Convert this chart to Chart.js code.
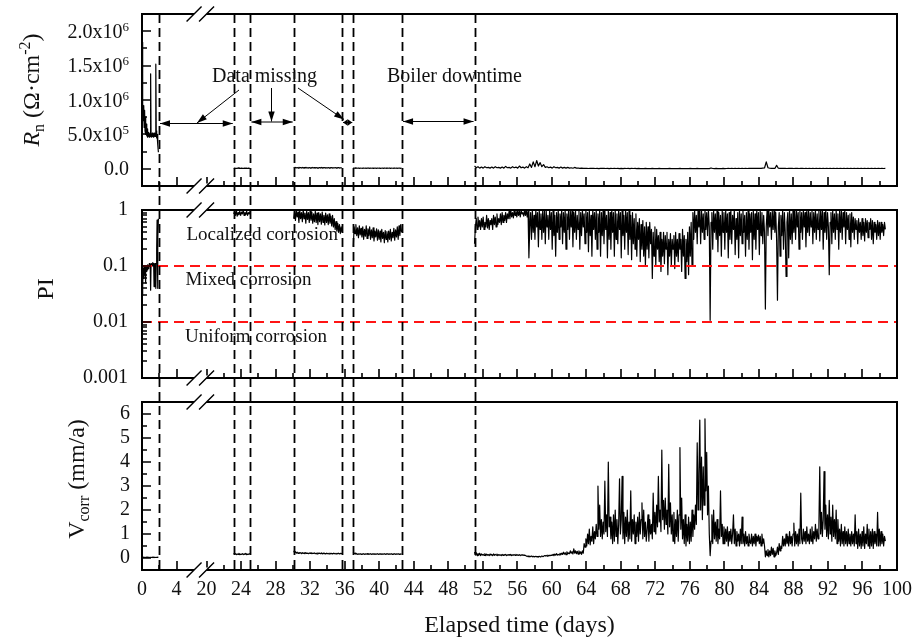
<!DOCTYPE html>
<html>
<head>
<meta charset="utf-8">
<script src="https://cdn.jsdelivr.net/npm/chart.js@4"></script>
<style>
  html, body { margin: 0; padding: 0; background: #fff; }
  #wrap { position: relative; width: 922px; height: 640px; }
  #wrap canvas { position: absolute; left: 0; }
</style>
</head>
<body>
<div id="wrap">
  <canvas id="rn_plot" width="922" height="196" style="top:0px"></canvas>
  <canvas id="pi_plot" width="922" height="196" style="top:196px"></canvas>
  <canvas id="vcorr_plot" width="922" height="248" style="top:392px"></canvas>
</div>
<script>
'use strict';

// ---- data (time in days) ----
const gapEdges = [1.97, 23.15, 25.08, 30.1, 35.7, 37.0, 42.65, 51.05];
const xMajorTicks = [0, 4, 20, 24, 28, 32, 36, 40, 44, 48, 52, 56, 60, 64, 68, 72, 76, 80, 84, 88, 92, 96, 100];
const xMinorTicks = [2, 22, 26, 30, 34, 38, 42, 46, 50, 54, 58, 62, 66, 70, 74, 78, 82, 86, 90, 94, 98];

const rnTicks = [0, 5e5, 1e6, 1.5e6, 2e6];
const rnTickBase = ['0.0', '5.0x10', '1.0x10', '1.5x10', '2.0x10'];
const rnTickExp = ['', '5', '6', '6', '6'];
const rnMinorTicks = [2.5e5, 7.5e5, 1.25e6, 1.75e6];
const piTicks = [0.001, 0.01, 0.1, 1];
const piMinorTicks = [0.002, 0.003, 0.004, 0.005, 0.006, 0.007, 0.008, 0.009,
  0.02, 0.03, 0.04, 0.05, 0.06, 0.07, 0.08, 0.09, 0.2, 0.3, 0.4, 0.5, 0.6, 0.7, 0.8, 0.9];
const piThresholds = [0.1, 0.01];
const vcorrTicks = [0, 1, 2, 3, 4, 5, 6];
const vcorrMinorTicks = [0.5, 1.5, 2.5, 3.5, 4.5, 5.5];

// first run, 0 - 1.9 d, sampled every 0.05 d
const earlyStart = 0, earlyStep = 0.05;
const rnEarly = [1.84e6, 1.2e6, 0.95e6, 0.7e6, 0.92e6, 0.6e6, 0.85e6, 0.55e6, 0.75e6, 0.5e6,
  0.65e6, 0.48e6, 0.58e6, 0.46e6, 0.52e6, 0.47e6, 0.53e6, 0.46e6, 0.5e6, 0.47e6,
  1.38e6, 0.48e6, 0.5e6, 0.46e6, 0.52e6, 0.47e6, 0.5e6, 0.46e6, 0.52e6, 0.47e6,
  0.5e6, 0.47e6, 1.52e6, 0.55e6, 0.45e6, 0.5e6, 0.45e6, 0.35e6, 0.24e6];
const piEarly = [0.03, 0.1, 0.045, 0.09, 0.06, 0.1, 0.07, 0.095, 0.05, 0.1,
  0.08, 0.1, 0.085, 0.105, 0.09, 0.1, 0.095, 0.11, 0.1, 0.105,
  0.037, 0.11, 0.1, 0.11, 0.1, 0.115, 0.1, 0.11, 0.043, 0.11,
  0.1, 0.11, 0.04, 0.11, 0.2, 0.66, 0.04, 0.3, 0.7];
const vcorrEarly = [0.06, 0.03, 0.04, 0.02, 0.03, 0.02, 0.03, 0.02, 0.03, 0.02,
  0.03, 0.02, 0.03, 0.02, 0.03, 0.02, 0.03, 0.02, 0.03, 0.02,
  0.03, 0.02, 0.03, 0.02, 0.03, 0.02, 0.03, 0.02, 0.03, 0.02,
  0.03, 0.02, 0.03, 0.02, 0.03, 0.02, 0.04, 0.03, 0.04];

// short runs between the gaps, sampled every 0.1 d
const midStep = 0.1;
const mid1Start = 23.15, mid2Start = 30.1, mid3Start = 37.0;
const rnMid1 = [5e3, 1e4, 6e3, 8e3, 5e3, 1.2e4, 6e3, 9e3, 5e3, 1e4, 6e3, 8e3, 5e3, 1.2e4, 7e3, 9e3, 5e3, 1e4, 6e3, 8e3];
const piMid1 = [0.85, 0.95, 0.8, 1.0, 0.78, 0.9, 0.82, 0.95, 0.8, 0.92, 0.85, 1.0, 0.8, 0.9, 0.83, 0.95, 0.8, 0.9, 0.85, 0.95];
const vcorrMid1 = [0.2, 0.15, 0.18, 0.14, 0.17, 0.15, 0.19, 0.14, 0.16, 0.15, 0.18, 0.14, 0.17, 0.15, 0.19, 0.14, 0.16, 0.15, 0.18, 0.16];

const rnMid2 = [2.5e4, 1e4, 2e4, 1.2e4, 1.8e4, 1e4, 2.2e4, 1.3e4, 1.8e4, 1e4,
  2e4, 1.1e4, 1.7e4, 1e4, 2.1e4, 1.2e4, 1.6e4, 1e4, 1.9e4, 1.1e4,
  1.8e4, 1e4, 2e4, 1.2e4, 1.7e4, 1e4, 1.9e4, 1.1e4, 1.6e4, 1e4,
  1.8e4, 1.1e4, 2e4, 1e4, 1.7e4, 1.2e4, 1.9e4, 1e4, 1.6e4, 1.1e4,
  1.8e4, 1e4, 1.7e4, 1.1e4, 1.9e4, 1e4, 1.6e4, 1.2e4, 1.8e4, 1e4,
  1.7e4, 1.1e4, 1.9e4, 1e4, 1.6e4, 1.2e4, 1.5e4];
const piMid2 = [0.7, 0.95, 0.65, 1.0, 0.75, 0.92, 0.6, 0.98, 0.7, 0.9,
  0.62, 1.0, 0.7, 0.88, 0.58, 0.95, 0.68, 0.9, 0.6, 0.97,
  0.66, 0.92, 0.58, 0.85, 0.62, 0.95, 0.6, 0.88, 0.55, 0.9,
  0.62, 0.85, 0.56, 0.92, 0.6, 0.8, 0.54, 0.88, 0.6, 0.82,
  0.55, 0.85, 0.58, 0.78, 0.52, 0.8, 0.5, 0.7, 0.45, 0.62,
  0.42, 0.58, 0.4, 0.55, 0.38, 0.5, 0.4];
const vcorrMid2 = [0.3, 0.22, 0.26, 0.2, 0.24, 0.19, 0.23, 0.2, 0.22, 0.18,
  0.22, 0.19, 0.21, 0.18, 0.22, 0.19, 0.2, 0.18, 0.21, 0.19,
  0.22, 0.18, 0.2, 0.19, 0.21, 0.18, 0.2, 0.17, 0.21, 0.19,
  0.2, 0.18, 0.21, 0.17, 0.2, 0.18, 0.19, 0.17, 0.2, 0.18,
  0.19, 0.17, 0.2, 0.18, 0.19, 0.17, 0.2, 0.18, 0.19, 0.17,
  0.19, 0.18, 0.2, 0.17, 0.19, 0.18, 0.19];

const rnMid3 = [1.5e4, 0.8e4, 1.2e4, 0.7e4, 1.1e4, 0.8e4, 1.2e4, 0.7e4, 1e4, 0.8e4,
  1.1e4, 0.7e4, 1.2e4, 0.8e4, 1e4, 0.7e4, 1.1e4, 0.8e4, 1.2e4, 0.7e4,
  1e4, 0.8e4, 1.1e4, 0.7e4, 1.2e4, 0.8e4, 1e4, 0.7e4, 1.1e4, 0.8e4,
  1.2e4, 0.7e4, 1e4, 0.8e4, 1.1e4, 0.7e4, 1.2e4, 0.8e4, 1e4, 0.7e4,
  1.1e4, 0.8e4, 1.2e4, 0.7e4, 1e4, 0.8e4, 1.1e4, 0.7e4, 1.2e4, 0.8e4,
  1e4, 0.7e4, 1.1e4, 0.8e4, 1.2e4, 0.7e4, 1e4];
const piMid3 = [0.22, 0.5, 0.38, 0.55, 0.35, 0.48, 0.32, 0.52, 0.36, 0.47,
  0.33, 0.5, 0.3, 0.45, 0.34, 0.52, 0.31, 0.46, 0.35, 0.5,
  0.3, 0.44, 0.32, 0.48, 0.28, 0.42, 0.33, 0.46, 0.29, 0.44,
  0.3, 0.42, 0.27, 0.45, 0.31, 0.4, 0.26, 0.43, 0.3, 0.41,
  0.27, 0.42, 0.3, 0.45, 0.28, 0.4, 0.32, 0.47, 0.29, 0.44,
  0.33, 0.5, 0.3, 0.52, 0.35, 0.55, 0.4];
const vcorrMid3 = [0.25, 0.18, 0.2, 0.16, 0.18, 0.15, 0.17, 0.16, 0.18, 0.15,
  0.17, 0.16, 0.18, 0.15, 0.17, 0.16, 0.18, 0.15, 0.17, 0.16,
  0.18, 0.15, 0.17, 0.16, 0.18, 0.15, 0.17, 0.16, 0.18, 0.15,
  0.17, 0.16, 0.18, 0.15, 0.17, 0.16, 0.18, 0.15, 0.17, 0.16,
  0.18, 0.15, 0.17, 0.16, 0.18, 0.15, 0.17, 0.16, 0.18, 0.15,
  0.17, 0.16, 0.18, 0.15, 0.17, 0.16, 0.18];

// long run after the boiler downtime, from 51.05 d
const lateStart = 51.05;
// Rn every 0.2 d (one row = one day)
const rnLateStep = 0.2;
const rnLate = [
  4e4, 1.5e4, 3e4, 1e4, 2.5e4,   1e4, 3e4, 1.5e4, 2e4, 1e4,
  2.5e4, 1e4, 3e4, 1.5e4, 2e4,   1e4, 2.5e4, 1e4, 3.5e4, 1.5e4,
  2e4, 1e4, 3e4, 1.5e4, 2.5e4,   1e4, 4e4, 1.5e4, 2.5e4, 1e4,
  3e4, 1.5e4, 7e4, 2e4, 10e4,    3e4, 12e4, 4e4, 9e4, 3e4,
  6e4, 2e4, 3e4, 1.5e4, 2.5e4,   1e4, 3e4, 1.5e4, 2e4, 1e4,
  2.5e4, 1e4, 2e4, 1e4, 2e4,     1e4, 1.5e4, 0.8e4, 2e4, 1e4,
  1.2e4, 0.6e4, 1e4, 0.5e4, 0.8e4, 0.6e4, 0.4e4, 0.8e4, 0.5e4, 0.7e4,
  0.4e4, 0.6e4, 0.3e4, 0.7e4, 0.5e4, 0.6e4, 0.4e4, 0.5e4, 0.3e4, 0.6e4,
  0.4e4, 0.7e4, 0.4e4, 0.5e4, 0.3e4, 0.5e4, 0.3e4, 0.6e4, 0.4e4, 0.5e4,
  0.3e4, 0.5e4, 0.4e4, 0.6e4, 0.3e4, 0.5e4, 0.3e4, 0.4e4, 0.3e4, 0.5e4,
  0.3e4, 0.4e4, 0.3e4, 0.5e4, 0.3e4, 0.4e4, 0.3e4, 0.5e4, 0.3e4, 0.4e4,
  0.3e4, 0.4e4, 0.3e4, 0.5e4, 0.3e4, 0.4e4, 0.3e4, 0.4e4, 0.3e4, 0.5e4,
  0.3e4, 0.4e4, 0.3e4, 0.4e4, 0.3e4, 0.5e4, 0.3e4, 0.4e4, 0.3e4, 0.5e4,
  0.3e4, 0.4e4, 0.3e4, 0.4e4, 0.3e4, 0.4e4, 0.3e4, 1.2e4, 0.4e4, 0.3e4,
  0.5e4, 0.3e4, 0.4e4, 0.3e4, 0.5e4, 0.3e4, 0.4e4, 0.6e4, 0.4e4, 0.5e4,
  0.4e4, 0.6e4, 0.4e4, 0.5e4, 0.4e4, 0.6e4, 0.4e4, 0.5e4, 0.4e4, 0.6e4,
  0.5e4, 0.7e4, 0.5e4, 0.8e4, 0.6e4, 0.8e4, 0.6e4, 0.9e4, 1.2e4, 10e4,
  1.5e4, 0.8e4, 0.6e4, 0.7e4, 0.5e4, 5e4, 0.8e4, 0.6e4, 0.7e4, 0.5e4,
  0.6e4, 0.4e4, 0.6e4, 0.5e4, 0.6e4, 0.4e4, 0.6e4, 0.5e4, 0.4e4, 0.6e4,
  0.5e4, 0.4e4, 0.6e4, 0.4e4, 0.5e4, 0.4e4, 0.6e4, 0.4e4, 0.5e4, 0.4e4,
  0.6e4, 0.4e4, 0.5e4, 0.4e4, 0.6e4, 0.4e4, 0.5e4, 0.4e4, 0.6e4, 0.4e4,
  0.5e4, 0.4e4, 0.6e4, 0.4e4, 0.5e4, 0.4e4, 0.6e4, 0.4e4, 0.5e4, 0.4e4,
  0.5e4, 0.4e4, 0.6e4, 0.4e4, 0.5e4, 0.4e4, 0.5e4, 0.4e4, 0.6e4, 0.4e4,
  0.5e4, 0.4e4, 0.5e4, 0.4e4, 0.6e4, 0.4e4, 0.5e4, 0.4e4, 0.5e4];

// PI and Vcorr every 0.1 d (one row = one day, 51 .. 98)
const fineStep = 0.1;
const piLate = [
  0.25, 0.5, 0.7, 0.45, 0.75, 0.5, 0.65, 0.45, 0.7, 0.5,
  0.75, 0.45, 0.6, 0.5, 0.8, 0.48, 0.7, 0.45, 0.65, 0.55,
  0.7, 0.45, 0.8, 0.55, 0.75, 0.5, 0.85, 0.55, 0.7, 0.6,
  0.85, 0.55, 0.9, 0.6, 0.8, 0.65, 0.9, 0.6, 0.85, 0.7,
  0.95, 0.7, 1.0, 0.75, 0.9, 0.72, 1.0, 0.8, 0.95, 0.75,
  1.0, 0.8, 0.95, 0.75, 1.0, 0.85, 0.9, 0.78, 1.0, 0.8,
  1.0, 0.75, 0.95, 0.14, 0.5, 0.9, 0.3, 1.0, 0.4, 0.8,
  0.3, 1.0, 0.5, 0.9, 0.22, 1.0, 0.45, 0.85, 0.3, 1.0,
  0.4, 0.95, 0.25, 1.0, 0.5, 0.8, 0.3, 1.0, 0.45, 0.9,
  0.2, 1.0, 0.35, 0.8, 0.15, 0.9, 0.4, 1.0, 0.3, 0.85,
  0.5, 1.0, 0.25, 0.9, 0.4, 1.0, 0.2, 0.85, 0.45, 1.0,
  0.3, 0.95, 0.5, 1.0, 0.22, 0.9, 0.4, 1.0, 0.3, 0.8,
  0.45, 1.0, 0.2, 0.9, 0.35, 1.0, 0.5, 0.85, 0.25, 1.0,
  0.4, 0.9, 0.18, 1.0, 0.35, 0.8, 0.15, 1.0, 0.45, 0.9,
  0.3, 1.0, 0.2, 0.85, 0.4, 1.0, 0.15, 0.9, 0.35, 1.0,
  0.25, 1.0, 0.45, 0.8, 0.14, 1.0, 0.3, 0.9, 0.2, 1.0,
  0.4, 0.9, 0.15, 1.0, 0.3, 0.85, 0.25, 1.0, 0.45, 0.9,
  0.14, 1.0, 0.35, 0.8, 0.2, 1.0, 0.4, 0.9, 0.16, 1.0,
  0.3, 0.8, 0.13, 0.9, 0.25, 0.7, 0.2, 0.85, 0.15, 0.6,
  0.3, 0.7, 0.12, 0.55, 0.2, 0.65, 0.15, 0.5, 0.1, 0.6,
  0.2, 0.5, 0.14, 0.6, 0.25, 0.45, 0.06, 0.4, 0.15, 0.5,
  0.1, 0.45, 0.2, 0.35, 0.12, 0.4, 0.08, 0.3, 0.15, 0.4,
  0.11, 0.35, 0.2, 0.4, 0.07, 0.3, 0.15, 0.38, 0.1, 0.3,
  0.2, 0.35, 0.09, 0.4, 0.15, 0.3, 0.12, 0.38, 0.2, 0.3,
  0.08, 0.45, 0.15, 0.35, 0.06, 0.3, 0.12, 0.4, 0.07, 0.5,
  0.15, 0.6, 0.1, 0.9, 0.3, 1.0, 0.4, 0.8, 0.25, 1.0,
  0.5, 0.95, 0.25, 1.0, 0.4, 0.85, 0.3, 1.0, 0.45, 0.9,
  0.35, 1.0, 0.5, 0.0107, 0.6, 0.9, 0.2, 1.0, 0.4, 0.85,
  0.3, 1.0, 0.18, 0.9, 0.35, 0.8, 0.15, 1.0, 0.4, 0.9,
  0.2, 1.0, 0.4, 0.85, 0.14, 0.9, 0.3, 1.0, 0.25, 0.8,
  0.45, 1.0, 0.16, 0.7, 0.3, 0.9, 0.14, 1.0, 0.35, 0.85,
  0.25, 1.0, 0.4, 0.8, 0.15, 0.9, 0.3, 1.0, 0.2, 0.85,
  0.4, 0.9, 0.13, 1.0, 0.3, 0.85, 0.2, 1.0, 0.45, 0.9,
  0.16, 1.0, 0.35, 0.9, 0.25, 0.8, 0.4, 0.017, 0.5, 1.0,
  0.35, 1.0, 0.5, 0.9, 0.3, 0.95, 0.45, 1.0, 0.4, 0.9,
  0.3, 0.0245, 0.5, 0.9, 0.15, 0.8, 0.35, 1.0, 0.2, 0.9,
  0.4, 0.065, 0.6, 0.9, 0.14, 1.0, 0.3, 0.85, 0.25, 1.0,
  0.4, 0.95, 0.3, 1.0, 0.5, 0.9, 0.2, 1.0, 0.4, 0.9,
  0.3, 1.0, 0.5, 0.9, 0.22, 0.95, 0.4, 1.0, 0.35, 0.9,
  0.5, 1.0, 0.25, 0.9, 0.4, 1.0, 0.3, 0.85, 0.45, 1.0,
  0.28, 0.95, 0.45, 1.0, 0.2, 0.9, 0.4, 1.0, 0.3, 0.9,
  0.5, 0.07, 0.6, 0.9, 0.25, 1.0, 0.4, 0.85, 0.3, 1.0,
  0.45, 0.85, 0.2, 0.95, 0.4, 1.0, 0.3, 0.9, 0.5, 1.0,
  0.25, 0.9, 0.45, 0.8, 0.3, 0.85, 0.22, 0.9, 0.4, 0.75,
  0.3, 0.7, 0.45, 0.65, 0.25, 0.7, 0.4, 0.6, 0.3, 0.7,
  0.35, 0.6, 0.28, 0.7, 0.4, 0.65, 0.32, 0.6, 0.45, 0.7,
  0.3, 0.65, 0.25, 0.6, 0.4, 0.55, 0.3, 0.65, 0.35, 0.6,
  0.3, 0.6, 0.4, 0.55, 0.35, 0.6, 0.45];
const vcorrLate = [
  0.25, 0.12, 0.22, 0.1, 0.18, 0.12, 0.2, 0.1, 0.17, 0.12,
  0.15, 0.11, 0.18, 0.1, 0.16, 0.12, 0.14, 0.1, 0.16, 0.12,
  0.14, 0.1, 0.17, 0.11, 0.15, 0.12, 0.16, 0.1, 0.14, 0.12,
  0.13, 0.1, 0.15, 0.11, 0.14, 0.12, 0.15, 0.1, 0.13, 0.12,
  0.14, 0.11, 0.15, 0.1, 0.13, 0.12, 0.14, 0.11, 0.15, 0.12,
  0.13, 0.11, 0.14, 0.1, 0.13, 0.12, 0.14, 0.11, 0.12, 0.1,
  0.08, 0.06, 0.08, 0.05, 0.07, 0.06, 0.08, 0.05, 0.07, 0.06,
  0.05, 0.07, 0.05, 0.06, 0.04, 0.07, 0.05, 0.06, 0.08, 0.06,
  0.07, 0.1, 0.08, 0.11, 0.08, 0.12, 0.09, 0.11, 0.1, 0.12,
  0.11, 0.15, 0.1, 0.16, 0.12, 0.18, 0.12, 0.15, 0.13, 0.19,
  0.14, 0.2, 0.15, 0.24, 0.16, 0.22, 0.14, 0.26, 0.17, 0.21,
  0.18, 0.3, 0.2, 0.26, 0.17, 0.38, 0.2, 0.3, 0.18, 0.28,
  0.16, 0.3, 0.18, 0.26, 0.15, 0.3, 0.2, 0.6, 0.45, 0.8,
  0.5, 1.0, 0.6, 1.2, 0.55, 0.9, 0.7, 1.3, 0.6, 1.1,
  0.8, 1.4, 0.9, 3.0, 1.2, 2.2, 0.9, 1.6, 0.8, 1.5,
  1.0, 3.2, 1.1, 1.8, 0.9, 4.0, 1.3, 1.7, 0.8, 1.5,
  0.6, 1.8, 0.7, 2.0, 0.9, 1.6, 0.6, 1.4, 3.3, 1.0,
  1.6, 3.4, 0.8, 1.9, 0.6, 1.7, 0.9, 2.0, 0.7, 1.5,
  0.8, 2.8, 0.7, 1.6, 1.0, 1.8, 0.6, 1.5, 0.9, 1.7,
  0.7, 1.9, 1.0, 1.6, 2.3, 0.8, 2.0, 0.9, 1.5, 0.7,
  1.2, 1.8, 0.7, 1.6, 1.0, 1.4, 0.8, 2.7, 1.1, 1.9,
  1.0, 2.2, 1.3, 3.4, 1.5, 2.0, 1.1, 4.5, 1.6, 2.4,
  1.2, 2.5, 1.4, 2.0, 1.0, 3.9, 1.3, 2.3, 1.0, 1.8,
  0.7, 1.9, 0.6, 1.6, 0.9, 2.0, 0.7, 1.8, 4.6, 1.2,
  2.5, 0.8, 1.6, 0.6, 1.8, 0.5, 1.4, 0.7, 1.7, 0.6,
  1.5, 0.7, 2.0, 0.9, 1.8, 1.2, 2.2, 1.4, 4.8, 2.0,
  3.5, 5.75, 2.0, 4.2, 1.6, 3.8, 2.2, 5.8, 2.8, 4.4,
  1.8, 3.0, 1.0, 0.1, 0.7, 1.8, 0.6, 2.0, 0.8, 1.5,
  0.7, 1.6, 0.6, 1.2, 0.8, 2.8, 0.9, 1.4, 0.6, 1.3,
  0.6, 1.2, 0.7, 1.3, 0.5, 1.1, 0.7, 1.2, 0.6, 1.0,
  1.8, 0.6, 1.2, 0.5, 1.1, 0.7, 1.0, 0.5, 1.2, 0.6,
  1.7, 0.6, 1.0, 0.5, 1.1, 0.6, 0.9, 0.5, 1.0, 0.7,
  0.6, 1.0, 0.5, 0.9, 0.6, 1.0, 0.5, 0.9, 0.7, 0.95,
  0.6, 0.9, 0.5, 1.0, 0.6, 0.8, 0.5, 0.05, 0.3, 0.1,
  0.35, 0.05, 0.3, 0.1, 0.45, 0.15, 0.4, 0.05, 0.3, 0.1,
  0.2, 0.45, 0.15, 0.6, 0.3, 0.5, 0.4, 0.9, 0.5, 0.8,
  0.5, 1.0, 0.6, 0.9, 0.5, 1.1, 0.6, 0.9, 0.5, 1.0,
  1.45, 0.5, 1.1, 0.6, 1.0, 0.5, 1.2, 0.6, 2.7, 0.8,
  0.6, 1.2, 0.7, 1.1, 0.6, 1.3, 0.7, 1.0, 0.6, 1.2,
  0.7, 1.3, 0.6, 1.1, 0.8, 1.4, 0.7, 1.2, 0.8, 1.3,
  3.8, 1.0, 1.9, 0.9, 1.6, 3.6, 1.2, 2.2, 0.9, 1.8,
  0.8, 2.4, 1.0, 1.7, 0.7, 2.2, 0.9, 1.6, 0.8, 2.0,
  0.6, 1.6, 0.7, 1.2, 0.5, 1.4, 0.6, 1.1, 0.5, 1.3,
  0.6, 1.1, 0.5, 1.2, 0.6, 1.0, 0.5, 1.1, 0.6, 1.0,
  0.5, 1.8, 0.6, 1.1, 0.4, 1.2, 0.5, 1.0, 0.4, 1.1,
  0.5, 1.3, 0.4, 1.0, 0.6, 1.4, 0.5, 1.2, 0.4, 1.1,
  0.5, 1.2, 0.4, 1.1, 0.6, 1.0, 0.5, 1.9, 0.5, 1.2,
  0.5, 1.1, 0.6, 1.0, 0.5, 0.9, 0.7];

// ---- broken time axis: 4..20 d squeezed into a short gap ----
const BREAK_START = 4, BREAK_END = 20, BREAK_WIDTH = 3.48;
function mapDay(d) {
  return d < BREAK_END ? d : d - (BREAK_END - BREAK_START - BREAK_WIDTH);
}
const X_MAX = mapDay(100);

const FONT = '"Liberation Serif", "Times New Roman", serif';
const INK = '#111';
Chart.defaults.font.family = FONT;
Chart.defaults.color = INK;

function toPoints(start, step, values) {
  return values.map((v, i) => ({ x: mapDay(start + i * step), y: v }));
}

function joinBlocks(blocks) {
  const out = [];
  blocks.forEach((b, k) => {
    if (k > 0) out.push({ x: b[0].x, y: null });
    out.push(...b);
  });
  return out;
}

function seriesData(early, mid1, mid2, mid3, late, lateStep) {
  return joinBlocks([
    toPoints(earlyStart, earlyStep, early),
    toPoints(mid1Start, midStep, mid1),
    toPoints(mid2Start, midStep, mid2),
    toPoints(mid3Start, midStep, mid3),
    toPoints(lateStart, lateStep, late)
  ]);
}

function lineDataset(data) {
  return {
    data: data,
    borderColor: '#000',
    borderWidth: 1.2,
    borderJoinStyle: 'round',
    pointRadius: 0,
    fill: false,
    tension: 0,
    spanGaps: false,
    order: 1
  };
}

// ---- drawing helpers ----
function drawRuns(ctx, runs, x, yCenter, size) {
  const fontFor = r => (r.italic ? 'italic ' : '') + ((r.sub || r.sup) ? Math.round(size * 0.65) : size) + 'px ' + FONT;
  ctx.save();
  ctx.translate(x, yCenter);
  ctx.rotate(-Math.PI / 2);
  let total = 0;
  const widths = runs.map(r => {
    ctx.font = fontFor(r);
    const w = ctx.measureText(r.text).width;
    total += w;
    return w;
  });
  let cx = -total / 2;
  ctx.fillStyle = INK;
  ctx.textAlign = 'left';
  ctx.textBaseline = 'alphabetic';
  runs.forEach((r, i) => {
    ctx.font = fontFor(r);
    const dy = r.sub ? size * 0.2 : (r.sup ? -size * 0.38 : 0);
    ctx.fillText(r.text, cx, dy);
    cx += widths[i];
  });
  ctx.restore();
}

function arrowHead(ctx, x0, y0, x1, y1, len, half) {
  const a = Math.atan2(y1 - y0, x1 - x0);
  const bx = x1 - len * Math.cos(a), by = y1 - len * Math.sin(a);
  ctx.beginPath();
  ctx.moveTo(x1, y1);
  ctx.lineTo(bx + half * Math.sin(a), by - half * Math.cos(a));
  ctx.lineTo(bx - half * Math.sin(a), by + half * Math.cos(a));
  ctx.closePath();
  ctx.fill();
}

function drawBreak(ctx, c, y) {
  const gap = 12.5, h = 7.5;
  ctx.save();
  ctx.fillStyle = '#fff';
  ctx.beginPath();
  ctx.moveTo(c - 2.5, y + 2.5);
  ctx.lineTo(c + 2.5, y - 2.5);
  ctx.lineTo(c + gap + 2.5, y - 2.5);
  ctx.lineTo(c + gap - 2.5, y + 2.5);
  ctx.closePath();
  ctx.fill();
  ctx.strokeStyle = '#000';
  ctx.lineWidth = 1.4;
  ctx.beginPath();
  [c, c + gap].forEach(cc => {
    ctx.moveTo(cc - h, y + h);
    ctx.lineTo(cc + h, y - h);
  });
  ctx.stroke();
  ctx.restore();
}

// frame, inward ticks and axis-break marks
function framePlugin(yMajor, yMinor) {
  return {
    id: 'frame',
    afterDatasetsDraw(chart) {
      const { ctx, chartArea: a, scales: { x, y } } = chart;
      ctx.save();
      ctx.strokeStyle = '#000';
      ctx.lineWidth = 1.6;
      ctx.beginPath();
      xMajorTicks.forEach(d => {
        const px = Math.round(x.getPixelForValue(mapDay(d)));
        ctx.moveTo(px, a.bottom);
        ctx.lineTo(px, a.bottom - 9);
      });
      xMinorTicks.forEach(d => {
        const px = Math.round(x.getPixelForValue(mapDay(d)));
        ctx.moveTo(px, a.bottom);
        ctx.lineTo(px, a.bottom - 5);
      });
      yMajor.forEach(v => {
        const py = Math.round(y.getPixelForValue(v));
        ctx.moveTo(a.left, py);
        ctx.lineTo(a.left + 9, py);
      });
      yMinor.forEach(v => {
        const py = Math.round(y.getPixelForValue(v));
        ctx.moveTo(a.left, py);
        ctx.lineTo(a.left + 5, py);
      });
      ctx.stroke();
      ctx.lineWidth = 2;
      ctx.strokeRect(a.left, a.top, a.right - a.left, a.bottom - a.top);
      ctx.restore();
      const c = x.getPixelForValue(mapDay(BREAK_END)) - 12.5;
      drawBreak(ctx, c, a.top);
      drawBreak(ctx, c, a.bottom);
    }
  };
}

// dashed lines at the edges of the gaps, running through all three panels
function gapLinesPlugin(canvasTop, fromChartTop, toChartBottom) {
  return {
    id: 'gapLines',
    afterDatasetsDraw(chart) {
      const { ctx, chartArea: a, scales: { x } } = chart;
      const y0 = fromChartTop ? a.top : 0;
      const y1 = toChartBottom ? a.bottom : chart.height;
      ctx.save();
      ctx.strokeStyle = '#000';
      ctx.lineWidth = 1.8;
      ctx.setLineDash([9, 5]);
      ctx.lineDashOffset = (canvasTop + y0 - 14) % 14;
      ctx.beginPath();
      gapEdges.forEach(d => {
        const px = Math.round(x.getPixelForValue(mapDay(d))) + 0.5;
        ctx.moveTo(px, y0);
        ctx.lineTo(px, y1);
      });
      ctx.stroke();
      ctx.restore();
    }
  };
}

function titlePlugin(runs, x, yCenter) {
  return {
    id: 'yTitle',
    afterDraw(chart) {
      drawRuns(chart.ctx, runs, x, yCenter, 24);
    }
  };
}

// keep the plot areas where the figure has them: no extra room for end labels
function fixWidth(s) {
  s.width = 142;
  s.paddingTop = 0;
  s.paddingBottom = 0;
}

function baseOptions(padding, yScale, xExtra) {
  return {
    responsive: false,
    animation: false,
    events: [],
    layout: { padding: padding },
    plugins: { legend: { display: false }, tooltip: { enabled: false } },
    scales: {
      x: Object.assign({
        type: 'linear',
        min: 0,
        max: X_MAX,
        display: false,
        grid: { display: false, drawTicks: false },
        border: { display: false }
      }, xExtra || {}),
      y: yScale
    }
  };
}

// ---- Rn panel ----
const rnLabels = {
  id: 'rnLabels',
  afterDraw(chart) {
    const { ctx, scales: { y } } = chart;
    const right = 129;
    ctx.save();
    ctx.fillStyle = INK;
    rnTicks.forEach((v, i) => {
      const py = y.getPixelForValue(v);
      ctx.font = '13px ' + FONT;
      const supW = ctx.measureText(rnTickExp[i]).width;
      ctx.textBaseline = 'alphabetic';
      ctx.textAlign = 'right';
      ctx.font = '20px ' + FONT;
      ctx.fillText(rnTickBase[i], right - supW, py + 6.6);
      if (rnTickExp[i]) {
        ctx.textAlign = 'left';
        ctx.font = '13px ' + FONT;
        ctx.fillText(rnTickExp[i], right - supW, py - 0.5);
      }
    });
    ctx.restore();
  }
};

const rnNotes = {
  id: 'rnNotes',
  afterDraw(chart) {
    const { ctx, scales: { x } } = chart;
    const px = d => x.getPixelForValue(mapDay(d));
    ctx.save();
    ctx.fillStyle = INK;
    ctx.font = '20px ' + FONT;
    ctx.textBaseline = 'alphabetic';
    ctx.textAlign = 'left';
    ctx.fillText('Data missing', 212, 82);
    ctx.fillText('Boiler downtime', 387, 82);

    ctx.fillStyle = '#000';
    ctx.strokeStyle = '#000';
    ctx.lineWidth = 1;
    const spans = [[0, 1, 123.5], [2, 3, 122], [4, 5, 122.5], [6, 7, 121.5]];
    spans.forEach(([i0, i1, yy]) => {
      const x0 = px(gapEdges[i0]) + 1, x1 = px(gapEdges[i1]) - 1;
      const len = Math.min(10, (x1 - x0) / 2);
      ctx.beginPath();
      ctx.moveTo(x0, yy);
      ctx.lineTo(x1, yy);
      ctx.stroke();
      arrowHead(ctx, x1, yy, x0, yy, len, 3.2);
      arrowHead(ctx, x0, yy, x1, yy, len, 3.2);
    });
    const pointers = [[239, 90, 197, 123], [271.5, 88, 271.5, 121.5], [298, 88, 344, 119.5]];
    pointers.forEach(([x0, y0, x1, y1]) => {
      ctx.beginPath();
      ctx.moveTo(x0, y0);
      ctx.lineTo(x1, y1);
      ctx.stroke();
      arrowHead(ctx, x0, y0, x1, y1, 10, 3.2);
    });
    ctx.restore();
  }
};

new Chart(document.getElementById('rn_plot'), {
  type: 'line',
  data: {
    datasets: [lineDataset(seriesData(rnEarly, rnMid1, rnMid2, rnMid3, rnLate, rnLateStep))]
  },
  options: baseOptions({ left: 0, right: 25, top: 14, bottom: 10 }, {
    type: 'linear',
    min: -2.5e5,
    max: 2.25e6,
    grid: { display: false, drawTicks: false },
    border: { display: false },
    ticks: { display: false },
    afterFit: fixWidth
  }),
  plugins: [
    gapLinesPlugin(0, true, false),
    framePlugin(rnTicks, rnMinorTicks),
    rnLabels,
    rnNotes,
    titlePlugin([
      { text: 'R', italic: true },
      { text: 'n', sub: true },
      { text: ' (\u03A9\u00B7cm' },
      { text: '-2', sup: true },
      { text: ')' }
    ], 39, 90)
  ]
});

// ---- PI panel ----
const piNotes = {
  id: 'piNotes',
  afterDraw(chart) {
    const ctx = chart.ctx;
    ctx.save();
    ctx.fillStyle = INK;
    ctx.font = '19px ' + FONT;
    ctx.textBaseline = 'alphabetic';
    ctx.fillText('Localized corrosion', 186.5, 43.5);
    ctx.fillText('Mixed corrosion', 185.5, 88.5);
    ctx.fillText('Uniform corrosion', 185, 145.5);
    ctx.restore();
  }
};

const piDatasets = piThresholds.map(t => ({
  data: [{ x: 0, y: t }, { x: X_MAX, y: t }],
  borderColor: '#ff1414',
  borderWidth: 2,
  borderDash: [10, 6],
  pointRadius: 0,
  fill: false,
  order: 0
}));
piDatasets.push(lineDataset(seriesData(piEarly, piMid1, piMid2, piMid3, piLate, fineStep)));

new Chart(document.getElementById('pi_plot'), {
  type: 'line',
  data: { datasets: piDatasets },
  options: baseOptions({ left: 0, right: 25, top: 14, bottom: 14 }, {
    type: 'logarithmic',
    min: 0.001,
    max: 1,
    grid: { display: false, drawTicks: false },
    border: { display: false },
    ticks: {
      font: { size: 20, family: FONT },
      color: INK,
      padding: 14,
      autoSkip: false,
      callback: v => String(v)
    },
    afterBuildTicks: s => { s.ticks = piTicks.map(v => ({ value: v })); },
    afterFit: fixWidth
  }),
  plugins: [
    gapLinesPlugin(196, false, false),
    framePlugin(piTicks, piMinorTicks),
    piNotes,
    titlePlugin([{ text: 'PI' }], 53, 93)
  ]
});

// ---- Vcorr panel ----
new Chart(document.getElementById('vcorr_plot'), {
  type: 'line',
  data: {
    datasets: [lineDataset(seriesData(vcorrEarly, vcorrMid1, vcorrMid2, vcorrMid3, vcorrLate, fineStep))]
  },
  options: baseOptions({ left: 0, right: 25, top: 10, bottom: 0 }, {
    type: 'linear',
    min: -0.5,
    max: 6.5,
    grid: { display: false, drawTicks: false },
    border: { display: false },
    ticks: {
      font: { size: 20, family: FONT },
      color: INK,
      padding: 12,
      autoSkip: false,
      callback: v => String(v)
    },
    afterBuildTicks: s => { s.ticks = vcorrTicks.map(v => ({ value: v })); },
    afterFit: fixWidth
  }, {
    display: true,
    ticks: {
      font: { size: 20, family: FONT },
      color: INK,
      padding: 8,
      autoSkip: false,
      maxRotation: 0,
      callback: (v, i) => String(xMajorTicks[i])
    },
    title: {
      display: true,
      text: 'Elapsed time (days)',
      font: { size: 24, family: FONT },
      color: INK,
      padding: { top: 0, bottom: 0 }
    },
    afterBuildTicks: s => { s.ticks = xMajorTicks.map(d => ({ value: mapDay(d) })); },
    afterFit: s => { s.height = 70; s.paddingLeft = 0; s.paddingRight = 0; }
  }),
  plugins: [
    gapLinesPlugin(392, false, true),
    framePlugin(vcorrTicks, vcorrMinorTicks),
    titlePlugin([
      { text: 'V' },
      { text: 'corr', sub: true },
      { text: ' (mm/a)' }
    ], 84, 87)
  ]
});
</script>
</body>
</html>
